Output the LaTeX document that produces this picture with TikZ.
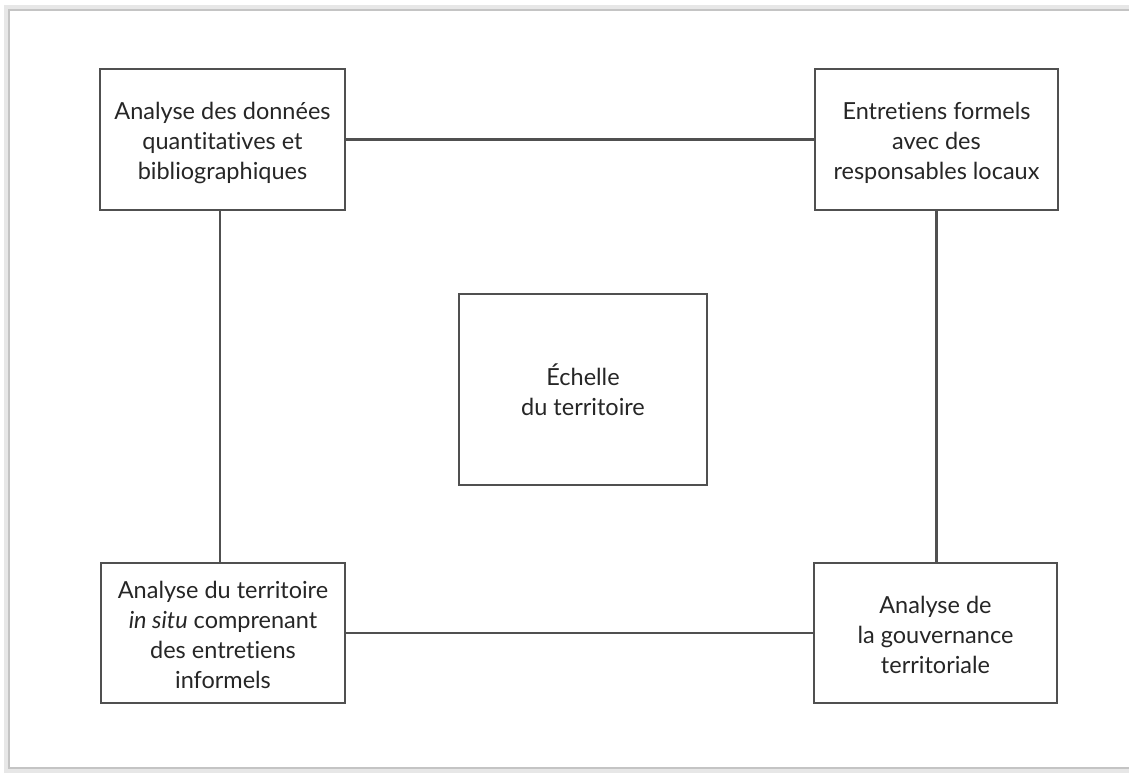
\documentclass[tikz,border=0pt]{standalone}
\usepackage{fontspec}
\setmainfont{Lato}[Ligatures={NoCommon}]
\newcommand{\upgap}[1]{\rule{0pt}{#1pt}}
\begin{document}
\begin{tikzpicture}[x=1pt,y=-1pt,
  boxstyle/.style={draw=linegray, line width=2.3pt, rectangle, inner sep=0pt, align=center,
    text=textgray, font=\fontsize{23.5}{30}\selectfont},
  linkstyle/.style={draw=linegray, line width=2.3pt}]
\definecolor{linegray}{HTML}{505050}
\definecolor{textgray}{HTML}{262626}
\definecolor{framegray}{HTML}{C4C4C4}
\useasboundingbox (0,0) rectangle (1129,772);
\clip (0,0) rectangle (1129,772);
\fill[white] (0,0) rectangle (1129,772);
% outer frame with soft shadow
\draw[framegray!40, line width=6pt] (7,8) rectangle (1140,771);
\draw[framegray, line width=2pt] (9,10) rectangle (1140,768);
% boxes
\node[boxstyle, minimum width=245pt, minimum height=141pt] (tl) at (222.5,139.5)
  {\upgap{25}Analyse des données\\quantitatives et\\bibliographiques};
\node[boxstyle, minimum width=243pt, minimum height=141pt] (tr) at (936.5,139.5)
  {\upgap{25}Entretiens formels\\avec des\\responsables locaux};
\node[boxstyle, minimum width=244pt, minimum height=140pt] (bl) at (223,633)
  {\upgap{21}Analyse du territoire\\\textit{in situ} comprenant\\des entretiens\\informels};
\node[boxstyle, minimum width=243pt, minimum height=140pt] (br) at (935.5,633)
  {\upgap{22}Analyse de\\la gouvernance\\territoriale};
\node[boxstyle, minimum width=248pt, minimum height=191pt] (c) at (583,389.5)
  {Échelle\\du territoire};
% connectors
\draw[linkstyle] (tl.east) -- (tl.east -| tr.west);
\draw[linkstyle] ([xshift=-2.5pt]tl.south) -- ([xshift=-2.5pt]tl.south |- bl.north);
\draw[linkstyle] (tr.south) -- (tr.south |- br.north);
\draw[linkstyle] (bl.east) -- (bl.east -| br.west);
\end{tikzpicture}
\end{document}
